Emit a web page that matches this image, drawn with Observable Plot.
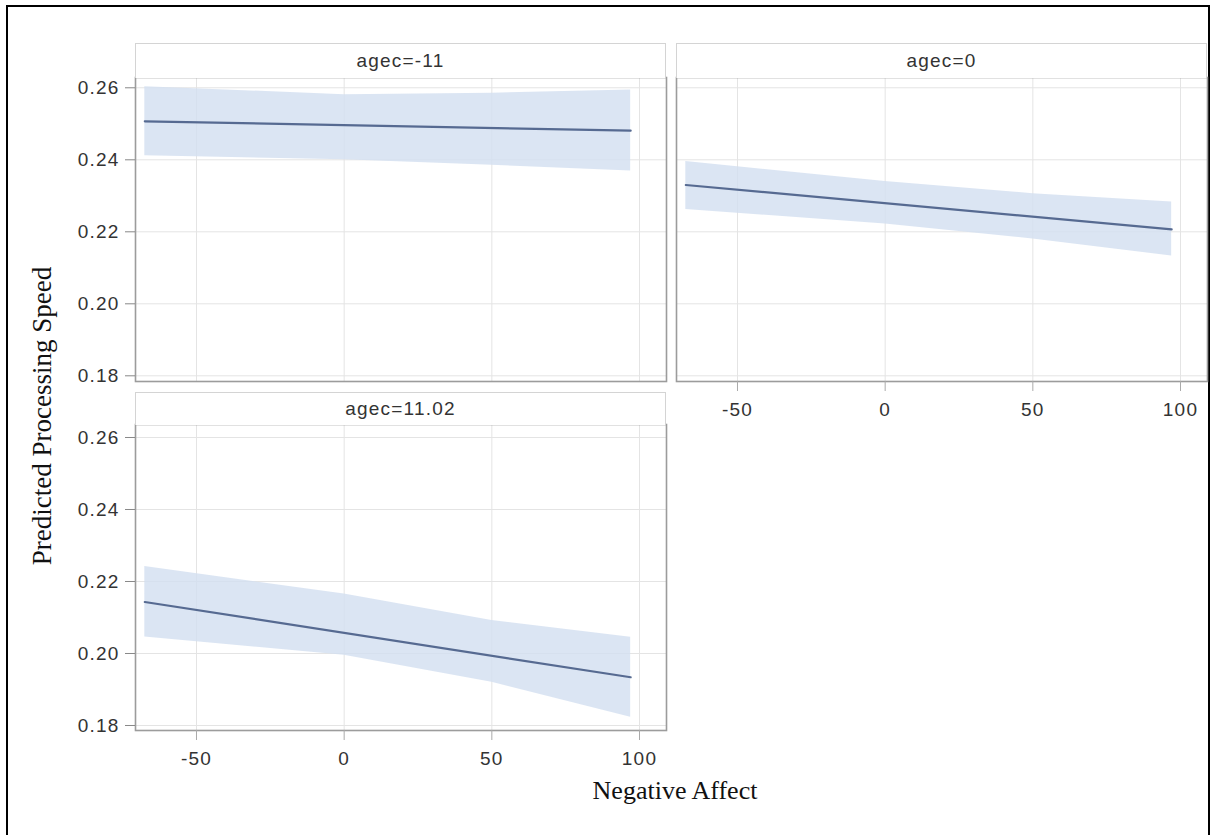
<!DOCTYPE html>
<html>
<head>
<meta charset="utf-8">
<script src="https://cdn.jsdelivr.net/npm/d3@7"></script>
<script src="https://cdn.jsdelivr.net/npm/@observablehq/plot@0.6"></script>
<style>
  body { margin: 0; background: #fff; }
  #wrap { position: relative; width: 1217px; height: 835px; background: #fff; overflow: hidden; }
  .outer { position: absolute; left: 6px; top: 5px; width: 1204px; height: 840px; border: 2px solid #000; box-sizing: border-box; }
  .hdr { position: absolute; box-sizing: border-box; border: 1px solid #d4d4d4; border-bottom: none; background: #fff;
         font-family: "Liberation Sans", Arial, sans-serif; font-size: 19px; letter-spacing: 1.2px; color: #333;
         display: flex; align-items: center; justify-content: center; }
  .pan { position: absolute; }
  .pan svg { overflow: visible; background: transparent !important; }
  .title { position: absolute; font-family: "Liberation Serif", "Times New Roman", serif; color: #111; white-space: nowrap; }
</style>
</head>
<body>
<div id="wrap">
  <div class="outer"></div>
</div>
<script>
// ---- data ----
const panelLabels = ["agec=-11", "agec=0", "agec=11.02"];
const xTicks = [-50, 0, 50, 100];
const yTicks = [0.18, 0.20, 0.22, 0.24, 0.26];
const lineX = [-67.5, 97];
const predA = [0.2507, 0.2481];
const predB = [0.2330, 0.2207];
const predC = [0.2143, 0.1934];
const bandX = [-67.5, 0, 50, 97];
const upperA = [0.2603, 0.2581, 0.2585, 0.2594];
const lowerA = [0.2411, 0.2400, 0.2385, 0.2369];
const upperB = [0.2395, 0.2340, 0.2306, 0.2283];
const lowerB = [0.2262, 0.2222, 0.2180, 0.2133];
const upperC = [0.2242, 0.2165, 0.2092, 0.2045];
const lowerC = [0.2046, 0.1995, 0.1920, 0.1823];
const xTitle = "Negative Affect";
const yTitle = "Predicted Processing Speed";

const wrap = document.getElementById("wrap");
const fmtY = d3.format(".2f");

function panel(cfg) {
  const lineData = lineX.map((x, i) => ({x, y: cfg.pred[i]}));
  const bandData = bandX.map((x, i) => ({x, hi: cfg.upper[i], lo: cfg.lower[i]}));
  const marks = [
    Plot.gridX(xTicks, {stroke: "#e4e4e4", strokeOpacity: 1}),
    Plot.gridY(yTicks, {stroke: "#e4e4e4", strokeOpacity: 1}),
    Plot.areaY(bandData, {x: "x", y1: "lo", y2: "hi", fill: "#d3dff0", fillOpacity: 0.82}),
    Plot.line(lineData, {x: "x", y: "y", stroke: "#566a91", strokeWidth: 2.2}),
    Plot.frame({stroke: "#9c9c9c", strokeWidth: 1.6})
  ];
  if (cfg.yAxis) marks.push(Plot.axisY(yTicks, {label: null, tickFormat: fmtY, tickSize: 10, tickPadding: 6, stroke: "#888", fill: "#333", fontSize: 19}));
  if (cfg.xAxis) marks.push(Plot.axisX(xTicks, {label: null, tickFormat: d => String(d), tickSize: 10, tickPadding: 11, stroke: "#aaa", fill: "#333", fontSize: 19}));
  const chart = Plot.plot({
    width: cfg.width, height: cfg.height,
    marginLeft: cfg.ml, marginRight: cfg.mr, marginTop: cfg.mt, marginBottom: cfg.mb,
    x: {domain: [-70.65, 109.14], axis: null, label: null},
    y: {domain: cfg.yDomain, axis: null, label: null},
    style: {fontFamily: "Liberation Sans, Arial, sans-serif", letterSpacing: "1.2px", background: "transparent", overflow: "visible"},
    marks
  });
  const div = document.createElement("div");
  div.className = "pan";
  div.style.left = cfg.left + "px";
  div.style.top = cfg.top + "px";
  div.appendChild(chart);
  wrap.appendChild(div);

  const h = document.createElement("div");
  h.className = "hdr";
  h.style.left = cfg.hx + "px";
  h.style.top = cfg.hy + "px";
  h.style.width = cfg.hw + "px";
  h.style.height = cfg.hh + "px";
  h.textContent = cfg.label;
  wrap.appendChild(h);
}

panel({label: panelLabels[0], pred: predA, upper: upperA, lower: lowerA, yAxis: true, xAxis: false,
  left: 0, top: 60, width: 670, height: 326, ml: 135, mr: 4, mt: 17, mb: 5, yDomain: [0.17842, 0.26286],
  hx: 135, hy: 43, hw: 531, hh: 35});
panel({label: panelLabels[1], pred: predB, upper: upperB, lower: lowerB, yAxis: false, xAxis: true,
  left: 660, top: 60, width: 556, height: 371, ml: 16, mr: 9, mt: 17, mb: 50, yDomain: [0.17842, 0.26286],
  hx: 676, hy: 43, hw: 531, hh: 35});
panel({label: panelLabels[2], pred: predC, upper: upperC, lower: lowerC, yAxis: true, xAxis: true,
  left: 0, top: 410, width: 680, height: 370, ml: 135, mr: 14, mt: 14, mb: 50, yDomain: [0.17861, 0.26361],
  hx: 135, hy: 392, hw: 531, hh: 33});

const xt = document.createElement("div");
xt.className = "title";
xt.style.fontSize = "26px";
xt.style.left = "675px";
xt.style.top = "776px";
xt.style.transform = "translateX(-50%)";
xt.textContent = xTitle;
wrap.appendChild(xt);

const yt = document.createElement("div");
yt.className = "title";
yt.style.fontSize = "27px";
yt.style.left = "42px";
yt.style.top = "416px";
yt.style.transform = "translate(-50%, -50%) rotate(-90deg)";
yt.textContent = yTitle;
wrap.appendChild(yt);
</script>
</body>
</html>
